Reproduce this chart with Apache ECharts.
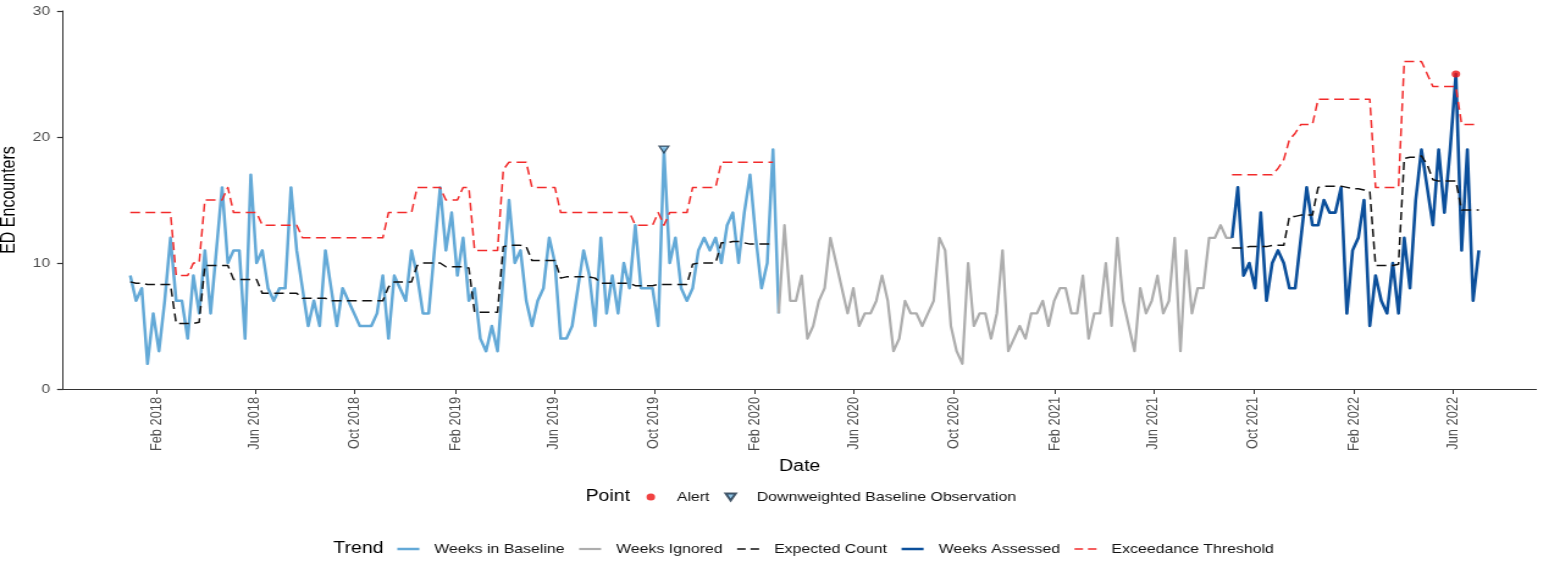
<!DOCTYPE html>
<html>
<head>
<meta charset="utf-8">
<script src="https://cdn.jsdelivr.net/npm/echarts@6/dist/echarts.min.js"></script>
<style>
html,body{margin:0;padding:0;background:#fff;overflow:hidden}
#frame{width:1549px;height:565px;overflow:hidden;position:relative;background:#fff}
#chart{height:565px;position:absolute;left:0;top:0;transform-origin:0 0}
</style>
</head>
<body>
<div id="frame"><div id="chart"></div></div>
<script>
// ---------- data ----------
const firstWeek = '2017-12-31';            // week index 0
const xRange = ['2017-10-10', '2022-09-11'];
const tickDates = ['2018-02-01','2018-06-01','2018-10-01','2019-02-01','2019-06-01','2019-10-01','2020-02-01',
                   '2020-06-01','2020-10-01','2021-02-01','2021-06-01','2021-10-01','2022-02-01','2022-06-01'];
const tickLabels = ['Feb 2018','Jun 2018','Oct 2018','Feb 2019','Jun 2019','Oct 2019','Feb 2020',
                    'Jun 2020','Oct 2020','Feb 2021','Jun 2021','Oct 2021','Feb 2022','Jun 2022'];
const yTicks = [0, 10, 20, 30];

const baselineStartWeek = 0;
const baselineCounts = [9,7,8,2,6,3,7,12,7,7, 4,9,6,11,6,11,16,10,11,11, 4,17,10,11,8,7,8,8,16,11,
  8,5,7,5,11,8,5,8,7,6, 5,5,5,6,9,4,9,8,7,11, 9,6,6,11,16,11,14,9,12,7, 8,4,3,5,3,9,15,10,11,7,
  5,7,8,12,10,4,4,5,8,11, 9,5,12,6,9,6,10,8,13,8, 8,8,5,19,10,12,8,7,8,11, 12,11,12,10,13,14,10,14,17,12,
  8,10,19,6];

const ignoredStartWeek = 113;
const ignoredCounts = [6,13,7,7,9,4,5,7,8,12, 10,8,6,8,5,6,6,7,9,7, 3,4,7,6,6,5,6,7,12,11,
  5,3,2,10,5,6,6,4,6,11, 3,4,5,4,6,6,7,5,7,8, 8,6,6,9,4,6,6,10,5,12, 7,5,3,8,6,7,9,6,7,12,
  3,11,6,8,8,12,12,13,12,12];

const assessedStartWeek = 192;
const assessedCounts = [12,16,9,10,8,14,7,10,11,10, 8,8,12,16,13,13,15,14,14,16,
  6,11,12,15,5,9,7,6,10,6, 12,8,15,19,16,13,19,14,19,25, 11,19,7,11];

const baselineExpected = [8.5,8.4,8.4,8.3,8.3,8.3,8.3,8.3,5.2,5.2, 5.2,5.2,5.3,9.8,9.8,9.8,9.8,9.8,8.7,8.7,
  8.7,8.7,8.7,7.6,7.6,7.6,7.6,7.6,7.6,7.6, 7.2,7.2,7.2,7.2,7.2,7.0,7.0,7.0,7.0,7.0,
  7.0,7.0,7.0,7.0,7.0,8.1,8.5,8.5,8.5,8.5, 9.8,10.0,10.0,10.0,10.0,9.7,9.7,9.7,9.7,9.6,
  6.1,6.1,6.1,6.1,6.1,11.3,11.4,11.4,11.4,11.3, 10.2,10.2,10.2,10.2,10.2,8.8,8.9,8.9,8.9,8.9,
  8.9,8.8,8.4,8.4,8.4,8.4,8.4,8.4,8.2,8.2, 8.2,8.2,8.3,8.3,8.3,8.3,8.3,8.3,9.9,10.0,
  10.0,10.0,10.0,11.6,11.6,11.7,11.7,11.6,11.5,11.5, 11.5,11.5,11.5];
const baselineThreshold = [14,14,14,14,14,14,14,14,9,9, 9,10,10,15,15,15,15,16,14,14,
  14,14,14,13,13,13,13,13,13,13, 12,12,12,12,12,12,12,12,12,12, 12,12,12,12,12,14,14,14,14,14,
  16,16,16,16,16,15,15,15,16,16, 11,11,11,11,11,17.4,18,18,18,18, 16,16,16,16,16,14,14,14,14,14,
  14,14,14,14,14,14,14,14,13,13, 13,13,14,13,14,14,14,14,16,16, 16,16,16,18,18,18,18,18,18,18,
  18,18,18];

const assessedExpected = [11.2,11.2,11.2,11.3,11.3,11.3,11.3,11.4,11.4,11.4, 13.7,13.7,13.8,13.8,13.8,16.0,16.1,16.1,16.1,16.1,
  16.0,15.9,15.9,15.8,15.7,9.8,9.8,9.8,9.8,9.9, 18.3,18.4,18.4,18.5,17.8,16.6,16.5,16.5,16.5,16.5, 14.2,14.2,14.2,14.2];
const assessedThreshold = [17,17,17,17,17,17,17,17,17.5,18.2, 19.8,20.3,21,21,21,23,23,23,23,23,
  23,23,23,23,23,16,16,16,16,16, 26,26,26,26,25,24,24,24,24,24, 21,21,21,21];

const alertWeeks = [231];        const alertValues = [25];
const downweightedWeeks = [93];  const downweightedValues = [19];

// ---------- helpers ----------
const STRETCH = 1.2197, W = 1549, H = 565;
const innerW = W / STRETCH;
const px = v => v / STRETCH;            // horizontal reference pixels -> chart pixels
const FONT = '"Liberation Sans", Arial, Helvetica, sans-serif';
const DAY = 86400000;
function utc(s) { const [y, m, d] = s.split('-').map(Number); return Date.UTC(y, m - 1, d); }
const weekTime = w => utc(firstWeek) + w * 7 * DAY;
const pairs = (arr, start) => arr.map((v, i) => [weekTime(start + i), v]);
const tickTimes = tickDates.map(utc);
const labelOf = {};
tickTimes.forEach((t, i) => { labelOf[t] = tickLabels[i]; });

const el = document.getElementById('chart');
el.style.width = innerW + 'px';
el.style.transform = 'scaleX(' + STRETCH + ')';
const chart = echarts.init(el, null, { renderer: 'canvas', width: innerW, height: H });

const C = {
  baseline: '#63a9d7', ignored: '#adadad', expected: '#111111',
  assessed: '#0b4f9b', threshold: '#f22b2b', alert: '#ee1111'
};
const DASH = [8, 4.5];
const TRI = 'path://M0,0 L20,0 L10,17 Z';
const ICON_SOLID = 'path://M0,0 H18 V2.5 H0 Z';
const ICON_SOLID_THIN = 'path://M0,0 H18 V2.2 H0 Z';
const ICON_DASH = 'path://M0,0 H7 V1.6 H0 Z M11,0 H18 V1.6 H11 Z';

function lineSeries(name, data, color, width, dashed, z) {
  return {
    name, type: 'line', data, symbol: 'none', showSymbol: false, z,
    lineStyle: { color, width, type: dashed ? DASH : 'solid', join: 'round', cap: 'butt' },
    itemStyle: { color },
    emphasis: { disabled: true }, silent: true, connectNulls: false
  };
}

const legendText = { fontSize: 13, color: '#111', fontFamily: FONT, padding: [0, 0, 0, px(15) - 5] };

const option = {
  animation: false,
  backgroundColor: '#ffffff',
  textStyle: { fontFamily: FONT },
  grid: { left: px(63), right: innerW - px(1535), top: 11, bottom: 176,
          containLabel: false, outerBoundsMode: 'none' },
  xAxis: {
    type: 'value', min: utc(xRange[0]), max: utc(xRange[1]),
    name: 'Date', nameLocation: 'middle', nameGap: 59,
    nameTextStyle: { fontSize: 16, color: '#000', fontFamily: FONT },
    axisLine: { show: true, lineStyle: { color: '#333', width: 1.2 } },
    axisTick: { show: true, length: 5, customValues: tickTimes, lineStyle: { color: '#333', width: 1 } },
    axisLabel: { customValues: tickTimes, rotate: 90, margin: 8, fontSize: 12.8, color: '#4d4d4d',
                 fontFamily: FONT, formatter: v => labelOf[v] || '' },
    splitLine: { show: false }
  },
  yAxis: {
    type: 'value', min: yTicks[0], max: yTicks[yTicks.length - 1], interval: 10,
    name: 'ED Encounters', nameLocation: 'middle', nameGap: 34, nameRotate: 90,
    nameTextStyle: { fontSize: 16, color: '#000', fontFamily: FONT },
    axisLine: { show: true, lineStyle: { color: '#333', width: 1 } },
    axisTick: { show: true, length: px(6), lineStyle: { color: '#333', width: 1.2 } },
    axisLabel: { margin: px(13), fontSize: 12.8, color: '#4d4d4d', fontFamily: FONT },
    splitLine: { show: false }
  },
  legend: [
    {
      data: [{ name: 'Alert', icon: 'circle' }, { name: 'Downweighted Baseline Observation', icon: TRI }],
      left: px(646), top: 498 - 7.5, orient: 'horizontal', padding: 0,
      itemWidth: px(22), itemHeight: 7, itemGap: px(15), selectedMode: false,
      textStyle: legendText
    },
    {
      data: [
        { name: 'Weeks in Baseline', icon: ICON_SOLID },
        { name: 'Weeks Ignored', icon: ICON_SOLID_THIN },
        { name: 'Expected Count', icon: ICON_DASH },
        { name: 'Weeks Assessed', icon: ICON_SOLID },
        { name: 'Exceedance Threshold', icon: ICON_DASH }
      ],
      left: px(397), top: 550 - 7.5, orient: 'horizontal', padding: 0,
      itemWidth: px(22), itemHeight: 14, itemGap: px(14.5), selectedMode: false,
      textStyle: legendText
    }
  ],
  graphic: [
    { type: 'text', left: px(585), top: 498 - 9, silent: true,
      style: { text: 'Point', fontSize: 16, fill: '#000', fontFamily: FONT } },
    { type: 'text', left: px(333), top: 550 - 9, silent: true,
      style: { text: 'Trend', fontSize: 16, fill: '#000', fontFamily: FONT } }
  ],
  series: [
    lineSeries('Weeks in Baseline', pairs(baselineCounts, baselineStartWeek), C.baseline, 2.5, false, 2),
    lineSeries('Weeks Ignored', pairs(ignoredCounts, ignoredStartWeek), C.ignored, 2.2, false, 2),
    lineSeries('Expected Count', pairs(baselineExpected, baselineStartWeek), C.expected, 1.5, true, 3),
    lineSeries('Expected Count', pairs(assessedExpected, assessedStartWeek), C.expected, 1.5, true, 3),
    lineSeries('Weeks Assessed', pairs(assessedCounts, assessedStartWeek), C.assessed, 2.6, false, 2),
    lineSeries('Exceedance Threshold', pairs(baselineThreshold, baselineStartWeek), C.threshold, 1.5, true, 3),
    lineSeries('Exceedance Threshold', pairs(assessedThreshold, assessedStartWeek), C.threshold, 1.5, true, 3),
    {
      name: 'Alert', type: 'scatter', z: 5, symbol: 'circle', symbolSize: 7,
      data: alertWeeks.map((w, i) => [weekTime(w), alertValues[i]]),
      itemStyle: { color: C.alert }, emphasis: { disabled: true }, silent: true
    },
    {
      name: 'Downweighted Baseline Observation', type: 'scatter', z: 5, symbol: TRI, symbolSize: [8, 7],
      data: downweightedWeeks.map((w, i) => [weekTime(w), downweightedValues[i]]),
      itemStyle: { color: '#74b6e0', borderColor: '#1e3246', borderWidth: 1.2 },
      emphasis: { disabled: true }, silent: true
    }
  ]
};
chart.setOption(option);
</script>
</body>
</html>
